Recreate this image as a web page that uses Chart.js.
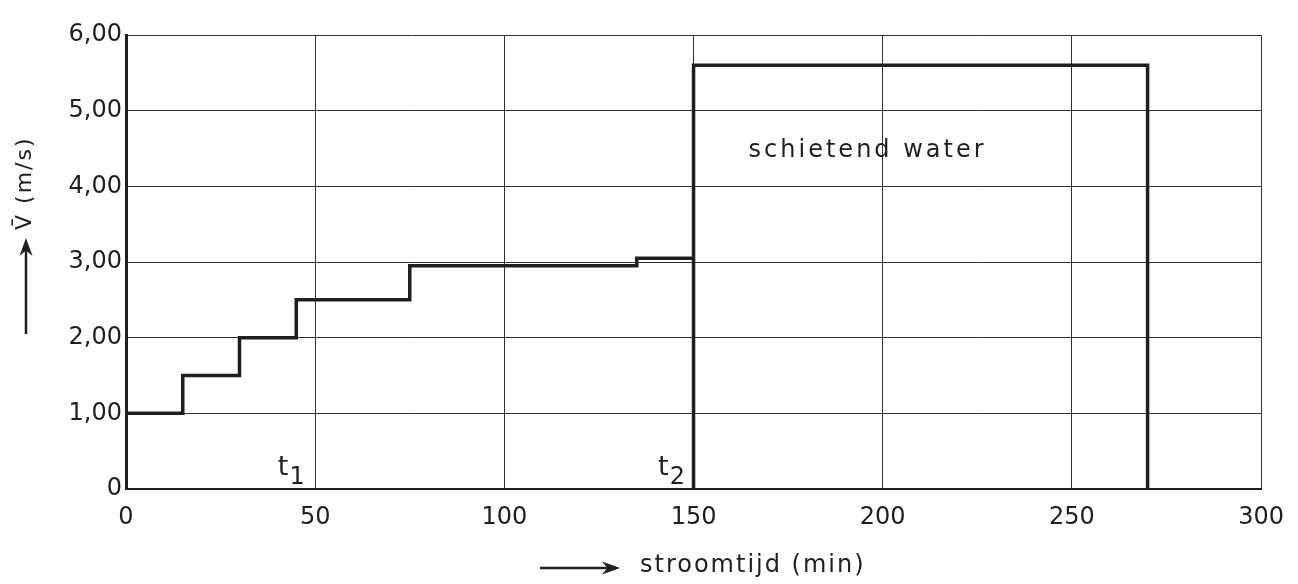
<!DOCTYPE html>
<html>
<head>
<meta charset="utf-8">
<script src="https://cdn.jsdelivr.net/npm/chart.js@4/dist/chart.umd.min.js"></script>
<style>
  html, body { margin: 0; padding: 0; background: #fff; }
  canvas { display: block; }
</style>
</head>
<body>
<canvas id="chart" width="1298" height="584"></canvas>
<script>
// start of each velocity level (min) and the level itself (m/s)
const stepTimes  = [0, 15, 30, 45, 75, 135, 150, 150, 270];
const stepSpeeds = [1.00, 1.50, 2.00, 2.50, 2.95, 3.05, 0, 5.60, 0];

const xTicks = [0, 50, 100, 150, 200, 250, 300];
const yTicks = [0, 1, 2, 3, 4, 5, 6];
const yTickLabels = ['0', '1,00', '2,00', '3,00', '4,00', '5,00', '6,00'];

// labels inside the plot, in data units
const noteText = 'schietend water';
const noteAt = [196, 4.39];
const timeMarks = ['1', '2'];
const timeMarkAt = [41.5, 142];

const INK = '#1f1f1f';
const FONT = '"DejaVu Sans", sans-serif';

function arrow(ctx, x1, y1, x2, y2) {
    const a = Math.atan2(y2 - y1, x2 - x1);
    const len = 18, w = 6.5;
    ctx.beginPath();
    ctx.moveTo(x1, y1);
    ctx.lineTo(x2 - Math.cos(a) * len * 0.6, y2 - Math.sin(a) * len * 0.6);
    ctx.stroke();
    ctx.beginPath();
    ctx.moveTo(x2, y2);
    ctx.lineTo(x2 - Math.cos(a) * len - Math.sin(a) * w, y2 - Math.sin(a) * len + Math.cos(a) * w);
    ctx.lineTo(x2 - Math.cos(a) * len * 0.7, y2 - Math.sin(a) * len * 0.7);
    ctx.lineTo(x2 - Math.cos(a) * len + Math.sin(a) * w, y2 - Math.sin(a) * len - Math.cos(a) * w);
    ctx.closePath();
    ctx.fill();
}

// white paper + titles, arrows and text labels
const annotations = {
    id: 'annotations',
    beforeDraw(chart) {
        const ctx = chart.ctx;
        ctx.save();
        ctx.fillStyle = '#fff';
        ctx.fillRect(0, 0, chart.width, chart.height);
        ctx.restore();
    },
    afterDraw(chart) {
        const ctx = chart.ctx;
        const xs = chart.scales.x, ys = chart.scales.y;
        ctx.save();
        ctx.fillStyle = INK;
        ctx.strokeStyle = INK;
        ctx.lineWidth = 2.5;

        // x axis title
        arrow(ctx, 540, 568, 620, 568);
        ctx.font = '24px ' + FONT;
        ctx.letterSpacing = '2px';
        ctx.textAlign = 'left';
        ctx.textBaseline = 'middle';
        ctx.fillText('stroomtijd (min)', 640, 566);

        // y axis title, rotated
        arrow(ctx, 26, 334, 26, 238);
        ctx.save();
        ctx.translate(25, 230);
        ctx.rotate(-Math.PI / 2);
        ctx.font = '22px ' + FONT;
        ctx.textAlign = 'left';
        ctx.fillText('V\u0304 (m/s)', 0, 0);
        ctx.restore();

        // text in the plot
        ctx.font = '24px ' + FONT;
        ctx.letterSpacing = '3px';
        ctx.textAlign = 'center';
        ctx.textBaseline = 'alphabetic';
        ctx.fillText(noteText, xs.getPixelForValue(noteAt[0]), ys.getPixelForValue(noteAt[1]));

        ctx.letterSpacing = '0px';
        timeMarks.forEach((sub, i) => {
            const px = xs.getPixelForValue(timeMarkAt[i]);
            const py = ys.getPixelForValue(0.18);
            ctx.font = '27px ' + FONT;
            ctx.fillText('t', px, py);
            ctx.font = '24px ' + FONT;
            ctx.fillText(sub, px + 14, py + 9);
        });
        ctx.restore();
    }
};

new Chart(document.getElementById('chart'), {
    type: 'line',
    data: {
        datasets: [{
            data: stepTimes.map((t, i) => ({ x: t, y: stepSpeeds[i] })),
            stepped: 'before',
            borderColor: INK,
            borderWidth: 3.5,
            pointRadius: 0,
            fill: false,
            clip: 4
        }]
    },
    options: {
        responsive: false,
        animation: false,
        events: [],
        layout: { padding: { top: 35, right: 34, left: 0, bottom: 0 } },
        plugins: { legend: { display: false }, tooltip: { enabled: false } },
        scales: {
            x: {
                type: 'linear',
                min: 0,
                max: 300,
                afterBuildTicks: s => { s.ticks = xTicks.map(v => ({ value: v })); },
                afterFit: s => { s.height = 95; },
                grid: { color: '#333', lineWidth: 1, drawTicks: false },
                border: { color: INK, width: 2 },
                ticks: { color: INK, font: { family: FONT, size: 24 }, padding: 14 }
            },
            y: {
                min: 0,
                max: 6,
                afterBuildTicks: s => { s.ticks = yTicks.map(v => ({ value: v })); },
                afterFit: s => { s.width = 126; },
                grid: { color: '#333', lineWidth: 1, drawTicks: false },
                border: { color: INK, width: 3 },
                ticks: {
                    color: INK,
                    font: { family: FONT, size: 24 },
                    padding: 4,
                    callback: v => yTickLabels[yTicks.indexOf(v)]
                }
            }
        }
    },
    plugins: [annotations]
});
</script>
</body>
</html>
